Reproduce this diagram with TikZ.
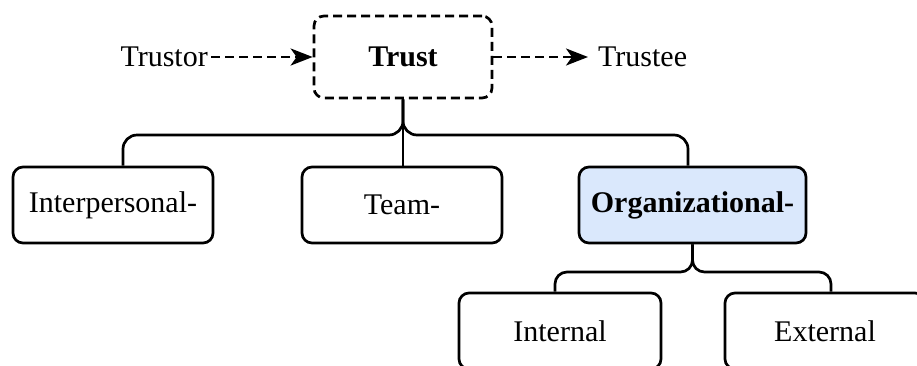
\documentclass[tikz,border=0pt]{standalone}
\usepackage{fontspec}
\setmainfont{Liberation Serif}
\usetikzlibrary{arrows.meta}
\definecolor{orgblue}{HTML}{DAE8FC}
\tikzset{
  box/.style={draw=black, line width=2.7pt, rounded corners=10pt, minimum height=76pt, inner sep=0pt, font=\fontsize{30}{35}\selectfont},
  plain/.style={inner sep=0pt, font=\fontsize{30}{35}\selectfont},
  conn/.style={draw=black, line width=2.7pt, rounded corners=14pt},
  darrow/.style={line width=2.7pt, dash pattern=on 9pt off 5pt, -{Stealth[length=22pt,width=17pt,inset=6pt]}}
}
\begin{document}
\begin{tikzpicture}[x=1pt,y=-1pt]
\useasboundingbox (0,0) rectangle (917,365);
\clip (0,0) rectangle (917,365);
\fill[white] (0,0) rectangle (917,365);
% nodes
\node[box, dashed, dash pattern=on 9pt off 5pt, minimum width=178pt, minimum height=82pt] (trust) at (403,57) {\textbf{Trust}};
\node[plain, anchor=east] (trustor) at (208,57) {Trustor};
\node[plain, anchor=west] (trustee) at (598,57) {Trustee};
\node[box, minimum width=200pt] (inter) at (113,205) {Interpersonal-};
\node[box, minimum width=200pt] (team) at (402,205) {Team-};
\node[box, fill=orgblue, minimum width=227pt] (org) at (692.5,205) {\textbf{Organizational-}};
\node[box, minimum width=202pt] (internal) at (560,331) {Internal};
\node[box, minimum width=200pt] (external) at (825,331) {External};
% coordinates for branching
\coordinate (b1) at (123,135);
\coordinate (b3) at (688,135);
\coordinate (c1) at (555,272);
\coordinate (c2) at (831,272);
% arrows
\draw[darrow] ([xshift=3pt]trustor.east) -- (trust.west);
\draw[darrow] (trust.east) -- ([xshift=-10pt]trustee.west);
% connectors
\draw[conn] (trust.south) |- (b1) -- (b1 |- inter.north);
\draw[conn] (trust.south) |- (b3) -- (b3 |- org.north);
\draw[conn] (trust.south) -- (trust.south |- team.north);
\draw[conn, rounded corners=12pt] (org.south) |- (c1) -- (c1 |- internal.north);
\draw[conn, rounded corners=12pt] (org.south) |- (c2) -- (c2 |- external.north);
\end{tikzpicture}
\end{document}
